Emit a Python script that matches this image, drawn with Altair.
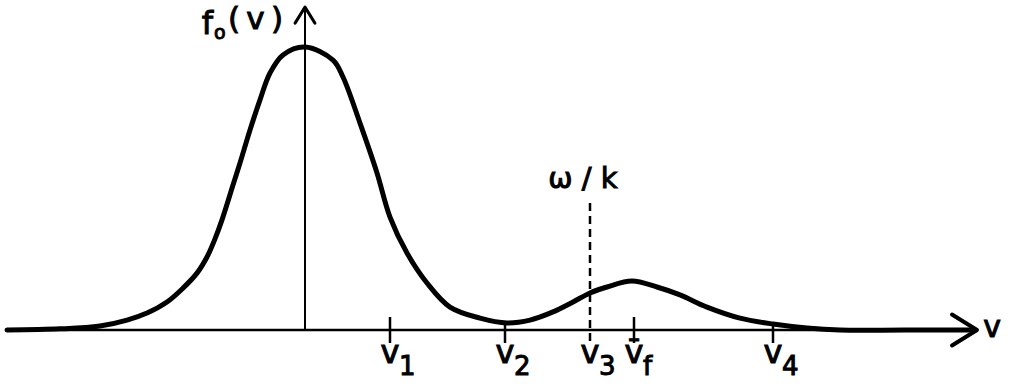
import altair as alt
import pandas as pd

# Velocity distribution f0(v): bulk (thermal) peak plus a small beam bump on the tail
curve_v = [-2.98, -2.45, -2.05, -1.78, -1.58, -1.38, -1.22, -1.08, -0.98, -0.90,
           -0.83, -0.72, -0.65, -0.55, -0.45, -0.35, -0.22, 0.0, 0.28, 0.38,
           0.55, 0.72, 0.85, 1.02, 1.22, 1.45, 1.75, 2.02, 2.25, 2.48,
           2.68, 2.85, 3.02, 3.27, 3.52, 3.75, 4.02, 4.35, 4.68, 5.02,
           5.35, 6.00, 6.70]
curve_f = [0.0, 0.004, 0.014, 0.035, 0.060, 0.099, 0.148, 0.201, 0.258, 0.322,
           0.389, 0.512, 0.590, 0.707, 0.813, 0.908, 0.972, 1.0, 0.954, 0.894,
           0.731, 0.555, 0.399, 0.272, 0.166, 0.081, 0.042, 0.025, 0.035, 0.064,
           0.099, 0.131, 0.152, 0.173, 0.152, 0.124, 0.081, 0.042, 0.021, 0.007,
           0.0, 0.0, 0.0]

# Marked velocities on the v axis (v3 is the phase velocity omega/k)
tick_base = ["v", "v", "v", "v\u0304", "v"]
tick_sub = ["1", "2", "3", "f", "4"]
tick_v = [0.85, 2.00, 2.85, 3.29, 4.68]
tick_top = [0.046, 0.028, 0.0, 0.046, 0.018]
tick_bottom = -0.046

phase_v = 2.85
phase_top = 0.449

# axis extents
v_min, v_max = -2.98, 6.72
f_max = 1.141

W, H = 1013, 384
x_scale = alt.Scale(domain=[-3.05, 7.08], nice=False, zero=False)
y_scale = alt.Scale(domain=[-0.1908, 1.1661], nice=False, zero=False)
FONT = "DejaVu Sans"
INK = dict(color="black", stroke="black", strokeWidth=1.0)

curve_df = pd.DataFrame({"v": curve_v, "f": curve_f})
ticks_df = pd.DataFrame({"v": tick_v, "top": tick_top, "bottom": tick_bottom,
                         "base": tick_base, "sub": tick_sub})
ticks_plain = ticks_df[ticks_df["sub"] != "3"]


def X(field="v"):
    return alt.X(field, type="quantitative", scale=x_scale, axis=None)


def Y(field="f"):
    return alt.Y(field, type="quantitative", scale=y_scale, axis=None)


h_axis = alt.Chart(pd.DataFrame({"v": [v_min, v_max], "f": [0, 0]})).mark_line(
    color="black", strokeWidth=2.5).encode(x=X(), y=Y())
v_axis = alt.Chart(pd.DataFrame({"v": [0, 0], "f": [0, f_max]})).mark_line(
    color="black", strokeWidth=2).encode(x=X(), y=Y())

right_head = alt.Chart(pd.DataFrame({"v": [v_max], "f": [0]})).mark_point(
    shape="M -1 -0.62 L 0 0 L -1 0.62", size=2500, filled=False,
    stroke="black", strokeWidth=4, strokeCap="round", strokeJoin="round", opacity=1
).encode(x=X(), y=Y())
up_head = alt.Chart(pd.DataFrame({"v": [0], "f": [f_max]})).mark_point(
    shape="M -0.62 1 L 0 0 L 0.62 1", size=1024, filled=False,
    stroke="black", strokeWidth=3, strokeCap="round", strokeJoin="round", opacity=1
).encode(x=X(), y=Y())

curve = alt.Chart(curve_df).mark_line(
    color="black", strokeWidth=5, interpolate="catmull-rom", strokeCap="round"
).encode(x=X(), y=Y())

ticks = alt.Chart(ticks_plain).mark_rule(color="black", strokeWidth=2.5).encode(
    x=X(), y=Y("top"), y2="bottom")

phase_line = alt.Chart(pd.DataFrame({"v": [phase_v], "top": [phase_top],
                                     "bottom": [tick_bottom]})).mark_rule(
    color="black", strokeWidth=2.5, strokeDash=[8, 5]).encode(
    x=X(), y=Y("top"), y2="bottom")

tick_labels = alt.Chart(ticks_df).transform_calculate(zero="0").mark_text(
    font=FONT, fontSize=32, align="center", baseline="alphabetic", dy=33, **INK
).encode(x=X(), y=Y("zero:Q"), text="base:N")

tick_subs = alt.Chart(ticks_df).transform_calculate(zero="0").mark_text(
    font=FONT, fontSize=26, align="left", baseline="alphabetic", dx=9, dy=45, **INK
).encode(x=X(), y=Y("zero:Q"), text="sub:N")

anchor_top = pd.DataFrame({"v": [0], "f": [f_max]})
f_label = alt.Chart(anchor_top).mark_text(
    font=FONT, fontSize=32, align="right", baseline="alphabetic", dx=-92, dy=27,
    text="f", **INK).encode(x=X(), y=Y())
o_label = alt.Chart(anchor_top).mark_text(
    font=FONT, fontSize=19, align="left", baseline="alphabetic", dx=-91, dy=32,
    text="o", **INK).encode(x=X(), y=Y())
arg_label = alt.Chart(anchor_top).mark_text(
    font=FONT, fontSize=31, align="right", baseline="alphabetic", dx=-22, dy=22,
    text="(\u2009v\u2009)", **INK).encode(x=X(), y=Y())

wk_label = alt.Chart(pd.DataFrame({"v": [phase_v], "f": [phase_top]})).mark_text(
    font=FONT, fontSize=29, align="center", baseline="alphabetic", dx=-7, dy=-15,
    text="\u03c9 / k", **INK).encode(x=X(), y=Y())

v_label = alt.Chart(pd.DataFrame({"v": [v_max], "f": [0]})).mark_text(
    font=FONT, fontSize=30, align="center", baseline="alphabetic", dx=15, dy=7,
    text="v", **INK).encode(x=X(), y=Y())

chart = alt.layer(
    h_axis, v_axis, right_head, up_head, ticks, phase_line, curve,
    tick_labels, tick_subs, f_label, o_label, arg_label, wk_label, v_label
).properties(
    width=W, height=H, padding=0, autosize=alt.AutoSizeParams(type="none"),
    background="white"
).configure_view(stroke=None)

chart.save("out.html", embed_options={"renderer": "svg", "actions": False})
